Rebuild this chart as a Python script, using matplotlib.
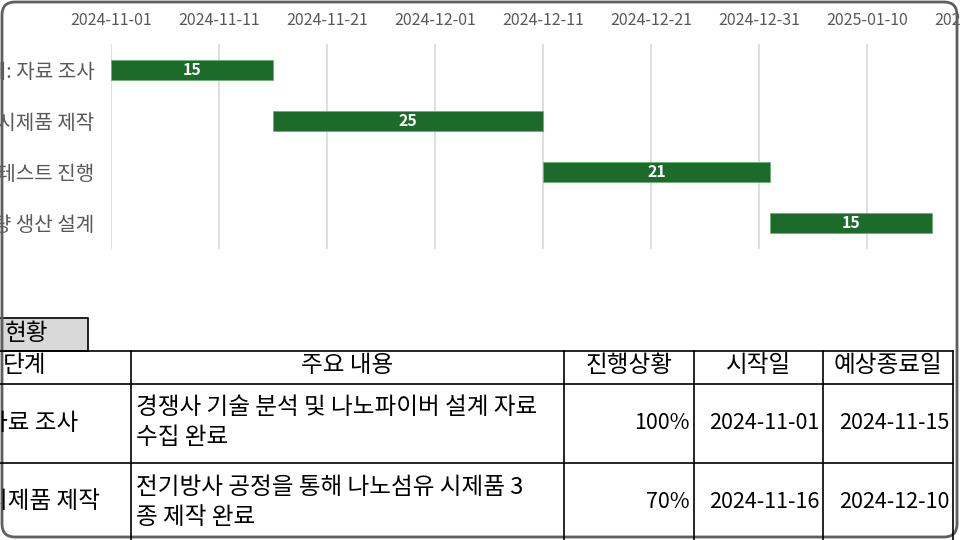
import numpy as np
import matplotlib
matplotlib.use("Agg")
import matplotlib.pyplot as plt
import matplotlib.dates as mdates
from matplotlib.patches import FancyBboxPatch, Rectangle
from datetime import datetime

plt.rcParams['font.family'] = ['Noto Sans CJK KR', 'DejaVu Sans']

# gantt data
stages = ["1단계: 자료 조사", "2단계: 시제품 제작", "3단계: 테스트 진행", "4단계: 대량 생산 설계"]
start_dates = ["2024-11-01", "2024-11-16", "2024-12-11", "2025-01-01"]
durations = [15, 25, 21, 15]
axis_start = "2024-11-01"
axis_end = "2025-01-20"

# status table
table_title = "현황"
table_header = ["단계", "주요 내용", "진행상황", "시작일", "예상종료일"]
table_stage = ["자료 조사", "시제품 제작"]
table_content = [["경쟁사 기술 분석 및 나노파이버 설계 자료", "수집 완료"],
                 ["전기방사 공정을 통해 나노섬유 시제품 3", "종 제작 완료"]]
table_progress = ["100%", "70%"]
table_start = ["2024-11-01", "2024-11-16"]
table_end = ["2024-11-15", "2024-12-10"]

W, H = 960, 540
fig = plt.figure(figsize=(9.6, 5.4), dpi=100)
fig.patch.set_facecolor('white')

# ---- gantt chart ----
ax = fig.add_axes([111 / W, 1 - 249 / H, 864 / W, 205 / H])
to_num = lambda s: mdates.date2num(datetime.strptime(s, "%Y-%m-%d"))
starts = np.array([to_num(s) for s in start_dates])
x0, x1 = to_num(axis_start), to_num(axis_end)

ypos = np.arange(len(stages))
ax.barh(ypos, durations, left=starts, height=0.39, color='#1C6B2A',
        edgecolor='#6DB075', linewidth=0.6, zorder=3)
for y, s, d in zip(ypos, starts, durations):
    ax.text(s + d / 2, y, str(d), ha='center', va='center', color='white',
            fontsize=11.5, fontweight='bold', zorder=4)

ax.set_xlim(x0, x1)
ax.set_ylim(len(stages) - 0.5, -0.5)
ax.set_xticks(np.arange(x0, x1 + 1, 10))
ax.xaxis.set_major_formatter(mdates.DateFormatter('%Y-%m-%d'))
ax.xaxis.tick_top()
ax.set_yticks(ypos)
ax.set_yticklabels(stages)
ax.grid(axis='x', color='#D9D9D9', linewidth=1.2)
ax.set_axisbelow(True)
for sp in ax.spines.values():
    sp.set_visible(False)
ax.tick_params(axis='x', length=0, colors='#595959', labelsize=11.5, pad=11)
ax.tick_params(axis='y', length=0, colors='#595959', labelsize=14.5, pad=12)

# ---- status table (pixel overlay) ----
ov = fig.add_axes([0, 0, 1, 1])
ov.set_xlim(0, W)
ov.set_ylim(H, 0)
ov.axis('off')

fs = 17      # hangul text
fn = 15.5    # numbers
cols = [-60, 131, 564, 694, 823, 953]
rows = [351, 384, 463, 560]

ov.add_patch(Rectangle((-5, 318), 93, 33, facecolor='#D9D9D9', edgecolor='black', lw=1.2))
ov.text(5, 333, table_title, ha='left', va='center', fontsize=fs, color='black')

for yy in rows[:-1]:
    ov.plot([0, cols[-1]], [yy, yy], color='black', lw=1.2)
for xx in cols[1:]:
    ov.plot([xx, xx], [rows[0], rows[-1]], color='black', lw=1.2)

ov.text(3, 366, table_header[0], ha='left', va='center', fontsize=fs)
for i in range(1, 5):
    ov.text((cols[i] + cols[i + 1]) / 2, 366, table_header[i], ha='center', va='center', fontsize=fs)

for r in range(2):
    mid = [423, 502][r]
    top = rows[r + 1]
    ov.text(-14, mid, table_stage[r], ha='left', va='center', fontsize=fs)
    ov.text(cols[1] + 5, top + 24, table_content[r][0], ha='left', va='center', fontsize=fs)
    ov.text(cols[1] + 5, top + 54, table_content[r][1], ha='left', va='center', fontsize=fs)
    ov.text(cols[3] - 4, mid, table_progress[r], ha='right', va='center', fontsize=fn)
    ov.text(cols[4] - 4, mid, table_start[r], ha='right', va='center', fontsize=fn)
    ov.text(cols[5] - 4, mid, table_end[r], ha='right', va='center', fontsize=fn)

# screenshot frame
ov.add_patch(FancyBboxPatch((2, 2), 955, 535, boxstyle="round,pad=0,rounding_size=13",
                            fill=False, edgecolor='#5E5E5E', lw=2))

fig.savefig("out.png", dpi=100)
